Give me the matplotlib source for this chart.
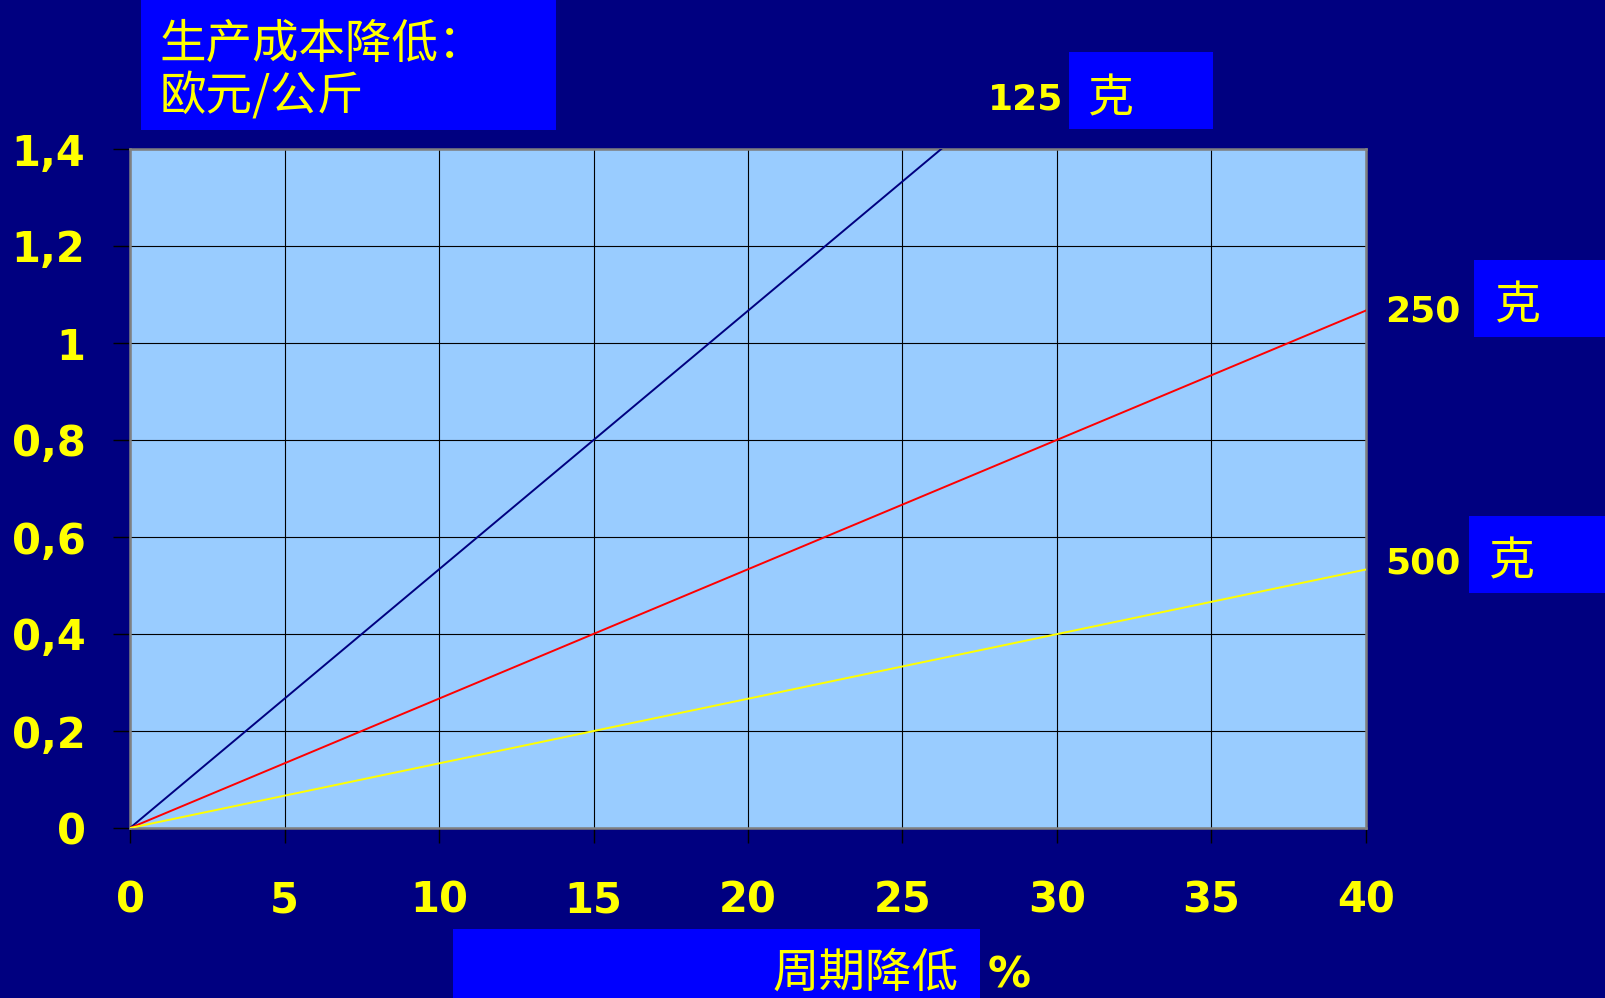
import matplotlib
matplotlib.use("Agg")
import matplotlib.pyplot as plt
from matplotlib.patches import Rectangle

# ---- data ----
x_pct = [0, 40]
cost_125g = [0, 2.133]
cost_250g = [0, 1.067]
cost_500g = [0, 0.533]
x_ticks = [0, 5, 10, 15, 20, 25, 30, 35, 40]
y_ticks = [0, 0.2, 0.4, 0.6, 0.8, 1.0, 1.2, 1.4]
y_tick_labels = ["0", "0,2", "0,4", "0,6", "0,8", "1", "1,2", "1,4"]
title_text = "生产成本降低：\n欧元/公斤"
xlabel_text = "周期降低"
series_labels = ["125", "250", "500"]
unit_text = "克"

W, H = 1606, 998
NAVY = "#000080"
BLUE = "#0000FF"
YEL = "#FFFF00"
CJK = ["Noto Sans CJK SC", "DejaVu Sans"]
LAT = ["DejaVu Sans"]

fig = plt.figure(figsize=(W / 100, H / 100), dpi=100)
fig.patch.set_facecolor(NAVY)

def fx(px):
    return px / W

def fy(py):
    return 1 - py / H

ax_l, ax_r, ax_t, ax_b = 130, 1366, 149, 828
ax = fig.add_axes([fx(ax_l), fy(ax_b), fx(ax_r - ax_l), (ax_b - ax_t) / H])
ax.set_facecolor("#99CCFF")

ax.plot(x_pct, cost_125g, color="#000080", lw=1.4, zorder=3)
ax.plot(x_pct, cost_250g, color="#FF0000", lw=1.4, zorder=3)
ax.plot(x_pct, cost_500g, color="#FFFF00", lw=1.4, zorder=3)

ax.set_xlim(0, 40)
ax.set_ylim(0, 1.4)
ax.set_xticks(x_ticks)
ax.set_xticklabels([str(v) for v in x_ticks])
ax.set_yticks(y_ticks)
ax.set_yticklabels(y_tick_labels)
ax.grid(True, color="black", lw=0.8)
ax.set_axisbelow(True)

for lab in ax.get_xticklabels() + ax.get_yticklabels():
    lab.set_family(LAT)
    lab.set_fontweight("bold")
    lab.set_fontsize(30)
    lab.set_color(YEL)
ax.tick_params(axis="x", length=11, width=1, color="black", pad=26, direction="out")
ax.tick_params(axis="y", length=12, width=1, color="black", pad=20, direction="out")
for s in ax.spines.values():
    s.set_color("#808080")
    s.set_linewidth(1.8)

# ---- boxes ----
def box(x0, y0, x1, y1):
    fig.patches.append(Rectangle((fx(x0), fy(y1)), fx(x1 - x0), (y1 - y0) / H,
                                 transform=fig.transFigure, facecolor=BLUE,
                                 edgecolor="none", zorder=0))

box(141, 0, 556, 130)
box(1069, 52, 1213, 129)
box(1474, 260, 1606, 337)
box(1469, 516, 1606, 593)
box(453, 929, 980, 998)

fig.text(fx(160), fy(71), title_text, family=CJK, fontsize=33.5, color=YEL,
         ha="left", va="center", linespacing=1.12)

fig.text(fx(1063), fy(100), series_labels[0], family=LAT, fontweight="bold",
         fontsize=26, color=YEL, ha="right", va="center")
fig.text(fx(1111), fy(99), unit_text, family=CJK, fontsize=33, color=YEL,
         ha="center", va="center")
fig.text(fx(1461), fy(311), series_labels[1], family=LAT, fontweight="bold",
         fontsize=26, color=YEL, ha="right", va="center")
fig.text(fx(1518), fy(306), unit_text, family=CJK, fontsize=33, color=YEL,
         ha="center", va="center")
fig.text(fx(1461), fy(563), series_labels[2], family=LAT, fontweight="bold",
         fontsize=26, color=YEL, ha="right", va="center")
fig.text(fx(1512), fy(562), unit_text, family=CJK, fontsize=33, color=YEL,
         ha="center", va="center")

fig.text(fx(865), fy(973), xlabel_text, family=CJK, fontsize=33.5, color=YEL,
         ha="center", va="center")
fig.text(fx(1009), fy(976), "%", family=LAT, fontweight="bold", fontsize=31,
         color=YEL, ha="center", va="center")

fig.savefig("out.png", dpi=100, facecolor=NAVY)
